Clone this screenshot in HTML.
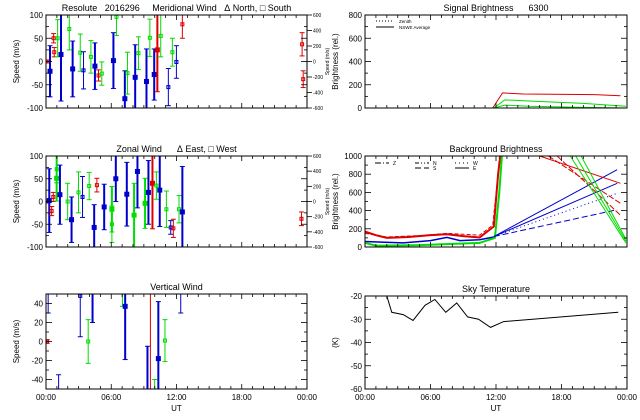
<!DOCTYPE html>
<html><head><meta charset="utf-8"><style>
html,body{margin:0;padding:0;background:#fff;width:640px;height:420px;overflow:hidden;}
svg{display:block;font-family:"Liberation Sans",sans-serif;}
</style></head><body>
<svg id="c" width="640" height="420" viewBox="0 0 640 420" xmlns="http://www.w3.org/2000/svg"></svg>
<script>
// ---- data ----
const merHours=[0.15,0.37,0.7,0.76,1.07,1.38,2.14,2.45,3.15,3.45,4.13,4.5,4.83,5.13,6.2,6.48,7.25,7.49,8.2,8.5,9.24,9.55,9.95,10.24,10.55,11.25,11.62,11.99,12.54,23.55,23.65];
const merValues=[0,-21,50,20,50,15,70,-16,19,-19,10,-10,-30,-26,2,96,-80,-25,-34,18,-43,51,-28,25,55,-55,20,-1,80,37,-38];
const merErr=[3,55,10,10,40,100,45,60,40,40,35,50,12,25,60,40,60,45,70,35,70,40,55,90,45,40,30,35,30,25,18];
const merColors=['r','b','r','r','g','b','g','b','g','b','g','b','r','g','b','g','b','g','b','g','b','g','b','r','g','b','g','b','r','r','r'];
const zonHours=[0.15,0.3,0.52,0.67,0.98,0.98,1.28,1.99,2.35,2.99,3.36,3.97,4.43,4.68,5.35,6.06,6.42,6.06,7.43,8.1,8.41,9.11,9.42,9.79,10.15,10.46,11.07,11.47,11.71,12.23,12.54,23.49];
const zonValues=[0,2,-21,10,51,71,15,0,-40,20,10,34,-57,36,-12,-17,50,-50,16,-30,66,-4,20,40,35,25,-17,-57,-59,-17,-23,-38];
const zonErr=[3,70,10,10,50,30,65,40,50,45,45,30,50,15,50,50,50,40,70,70,80,55,70,100,30,80,40,15,20,30,100,15];
const zonColors=['r','b','r','r','g','g','b','g','b','g','b','g','b','r','b','g','b','g','b','g','b','g','b','r','g','b','g','b','r','g','b','r'];
const verHours=[0.1,0.2,1.16,3.15,3.88,4.28,7.03,7.28,9.33,9.99,10.33,10.94,12.39];
const verValues=[0,60,-75,48,0,70,60,37,-60,-80,-18,1,70];
const verErr=[2,30,40,43,23,50,23,56,55,40,60,22,40];
const verColors=['r','b','b','b','g','b','g','b','b','g','b','g','b'];
const redLineHour=9.6;
const sigRedH=[0,11.7,12.6,14.5,21,23.4];
const sigRedV=[0,0,130,120,115,105];
const sigG1H=[0,11.8,12.8,15,20,23.9];
const sigG1V=[0,0,70,60,40,15];
const sigG2H=[0,11.8,12.8,15,20,23.9];
const sigG2V=[0,0,25,15,5,0];
const bgRedH=[0,1,2,4,6,7.5,9,10.5,11.8,12.2,12.5];
const bgRedV=[170,130,100,110,130,140,120,105,225,810,1100];
const bgRed2H=[0,2,5,7.5,9,10.5,11.7,12.1,12.4];
const bgRed2V=[150,110,125,150,140,130,240,700,1100];
const bgBlueH=[0,3.5,6,7.5,8.7,10.5,11.8];
const bgBlueV=[60,45,70,105,70,80,110];
const bgGreenH=[0,1,5,10.5,11.9,12.3,12.6];
const bgGreenV=[45,15,20,45,100,600,1100];
const bgBlueEndV=[850,700,410,590];
const bgRedEndV=[700,480,350];
const bgGreenStartH=[18.8,19.3,19.8];
const skyH=[2.0,2.45,3.5,4.4,5.5,6.4,7.4,8.4,9.4,10.4,11.5,12.7,23.2];
const skyV=[-20,-27,-28,-30.5,-24,-21.5,-27,-23,-29,-30,-33.5,-31,-27];

const COL={r:'#dd0000',g:'#00dd00',b:'#0000cc'};
const svg=document.getElementById('c');
const NS='http://www.w3.org/2000/svg';
function mk(tag,attrs,parent){const e=document.createElementNS(NS,tag);for(const k in attrs)e.setAttribute(k,attrs[k]);(parent||svg).appendChild(e);return e;}
function nb(s){return s.replace(/ /g,'\u00a0');}

function panel(id,x0,x1,y0,y1,ymin,ymax,yticks,minorStep,title,ytitle,xlabels,rightAxis){
  const g=mk('g',{});
  
  
  const X=h=>x0+(x1-x0)*h/24, Y=v=>y1-(y1-y0)*(v-ymin)/(ymax-ymin);
  const cp=mk('clipPath',{id:'cp-'+id},g);mk('rect',{x:x0,y:y0,width:x1-x0,height:y1-y0},cp);
  const plot=mk('g',{'clip-path':'url(#cp-'+id+')'},g);
  const fr=mk('rect',{x:x0,y:y0,width:x1-x0,height:y1-y0,fill:'none',stroke:'#000','stroke-width':1},g);
  
  for(let h=0;h<=24;h++){const L=(h%6==0)?5:3;const x=X(h);
    mk('line',{x1:x,x2:x,y1:y1,y2:y1-L,stroke:'#000','stroke-width':0.8},g);
    mk('line',{x1:x,x2:x,y1:y0,y2:y0+L,stroke:'#000','stroke-width':0.8},g);}
  if(xlabels){['00:00','06:00','12:00','18:00','00:00'].forEach((s,i)=>{const t=mk('text',{x:X(i*6),y:y1+11,'font-size':8,'text-anchor':'middle'},g);t.textContent=s;});
    const u=mk('text',{x:(x0+x1)/2,y:y1+22,'font-size':8,'text-anchor':'middle'},g);u.textContent='UT';}
  for(let v=ymin;v<=ymax+1e-9;v+=minorStep){const y=Y(v);const maj=yticks.includes(v);const L=maj?6:3;
    mk('line',{x1:x0,x2:x0+L,y1:y,y2:y,stroke:'#000','stroke-width':0.8},g);
    mk('line',{x1:x1,x2:x1-L,y1:y,y2:y,stroke:'#000','stroke-width':0.8},g);}
  yticks.forEach(v=>{const t=mk('text',{x:x0-3,y:Y(v)+3,'font-size':8,'text-anchor':'end'},g);t.textContent=v;});
  const tt=mk('text',{x:(x0+x1)/2,y:y0-4,'font-size':9,'text-anchor':'middle'},g);tt.textContent=nb(title);
  
  const yt=mk('text',{x:0,y:0,'font-size':8,'text-anchor':'middle',transform:`translate(${x0-27},${(y0+y1)/2}) rotate(-90)`},g);yt.textContent=ytitle;
  
  if(rightAxis){[600,400,200,0,-200,-400,-600].forEach((v,i)=>{const y=y0+(y1-y0)*i/6;
      mk('line',{x1:x1,x2:x1+5,y1:y,y2:y,stroke:'#000','stroke-width':0.8},g);
      const t=mk('text',{x:x1+6,y:y+2,'font-size':5},g);t.textContent=v;});
    const r=mk('text',{x:0,y:0,'font-size':5,'text-anchor':'middle',transform:`translate(${x1+22},${(y0+y1)/2}) rotate(-90)`},g);r.textContent='Speed (m/s)';
    }
  return {X,Y,plot,g};
}
function errbars(p,H,V,E,C,name){
  for(let i=0;i<H.length;i++){const x=p.X(H[i]),col=COL[C[i]];const big=E[i]>=50;const w=big?2:1;
    const g=mk('g',{},p.plot);
    mk('line',{x1:x,x2:x,y1:p.Y(V[i]-E[i]),y2:p.Y(V[i]+E[i]),stroke:col,'stroke-width':w},g);
    [V[i]-E[i],V[i]+E[i]].forEach(v=>mk('line',{x1:x-2.5,x2:x+2.5,y1:p.Y(v),y2:p.Y(v),stroke:col,'stroke-width':1},g));
    const s=big?4:3;mk('rect',{x:x-s/2,y:p.Y(V[i])-s/2,width:s,height:s,fill:big?col:'none',stroke:col,'stroke-width':1},g);}
}
function line(p,H,V,col,dash,name,w){const pts=H.map((h,i)=>p.X(h)+','+p.Y(V[i])).join(' ');
  const l=mk('polyline',{points:pts,fill:'none',stroke:col,'stroke-width':w||1,'stroke-dasharray':dash||'none'},p.plot);
  return l;}

const p1=panel('meridional-wind-panel',46,307,15,108,-100,100,[-100,-50,0,50,100],25,'Resolute   2016296     Meridional Wind   \u0394 North, \u25A1 South','Speed (m/s)',false,true);
errbars(p1,merHours,merValues,merErr,merColors,'meridional');
const p2=panel('zonal-wind-panel',46,307,156,247,-100,100,[-100,-50,0,50,100],25,'Zonal Wind      \u0394 East, \u25A1 West','Speed (m/s)',false,true);
errbars(p2,zonHours,zonValues,zonErr,zonColors,'zonal');
const p3=panel('vertical-wind-panel',46,307,294,389,-50,50,[-40,-20,0,20,40],10,'Vertical Wind','Speed (m/s)',true,false);
errbars(p3,verHours,verValues,verErr,verColors,'vertical');
const rl=mk('line',{x1:p3.X(redLineHour),x2:p3.X(redLineHour),y1:294,y2:389,stroke:COL.r,'stroke-width':1},p3.plot);


const r1=panel('signal-brightness-panel',365,627,15,108,0,800,[0,200,400,600,800],100,'Signal Brightness      6300','Brightness (rel.)',false,false);
line(r1,sigRedH,sigRedV,COL.r,null,'signal-red-line');
line(r1,sigG1H,sigG1V,COL.g,null,'signal-green-line');
line(r1,sigG2H,sigG2V,COL.g,null,'signal-green-line-2');
const lg1=mk('g',{},r1.g);
mk('line',{x1:376,x2:394,y1:21,y2:21,stroke:'#000','stroke-dasharray':'1,2'},lg1);
mk('line',{x1:376,x2:394,y1:27,y2:27,stroke:'#000'},lg1);
let t=mk('text',{x:399,y:23,'font-size':4.5},lg1);t.textContent='Zenith';
t=mk('text',{x:399,y:29,'font-size':4.5},lg1);t.textContent='NSWE Average';

const r2=panel('background-brightness-panel',365,627,156,247,0,1000,[0,200,400,600,800,1000],100,'Background Brightness','Brightness (rel.)',false,false);
line(r2,bgRedH,bgRedV,COL.r,null,'bg-red-line',2);
line(r2,bgRed2H,bgRed2V,COL.r,'4,2','bg-red-line-2',1);
line(r2,bgBlueH,bgBlueV,COL.b,null,'bg-blue-line',1.5);
line(r2,bgGreenH,bgGreenV,COL.g,null,'bg-green-line',2);
const dashes=[null,null,'6,3','1,3'];
bgBlueEndV.forEach((v,i)=>line(r2,[11.8,23.1],[115,v],COL.b,dashes[i],'bg-blue-trend'));
bgRedEndV.forEach((v,i)=>line(r2,[16+i*0.8,23.4],[1000,v],COL.r,i?'6,2':null,'bg-red-trend'));
bgGreenStartH.forEach((h,i)=>line(r2,[h,23.9],[1000,45+i*20],COL.g,null,'bg-green-trend'));
const lg2=mk('g',{},r2.g);
[['Z',375,163,'6,2,1,2'],['N',415,163,'4,2,1,2,1,2'],['S',415,168,'6,3'],['W',455,163,'1,3'],['E',455,168,null]].forEach(([s,x,y,d])=>{
  mk('line',{x1:x,x2:x+14,y1:y,y2:y,stroke:'#000','stroke-dasharray':d||'none'},lg2);
  const tx=mk('text',{x:x+18,y:y+2,'font-size':5},lg2);tx.textContent=s;});

const r3=panel('sky-temperature-panel',365,627,296,389,-60,-20,[-60,-50,-40,-30,-20],5,'Sky Temperature','(K)',true,false);
line(r3,skyH,skyV,'#000',null,'sky-temperature-line');
</script>
</body></html>
